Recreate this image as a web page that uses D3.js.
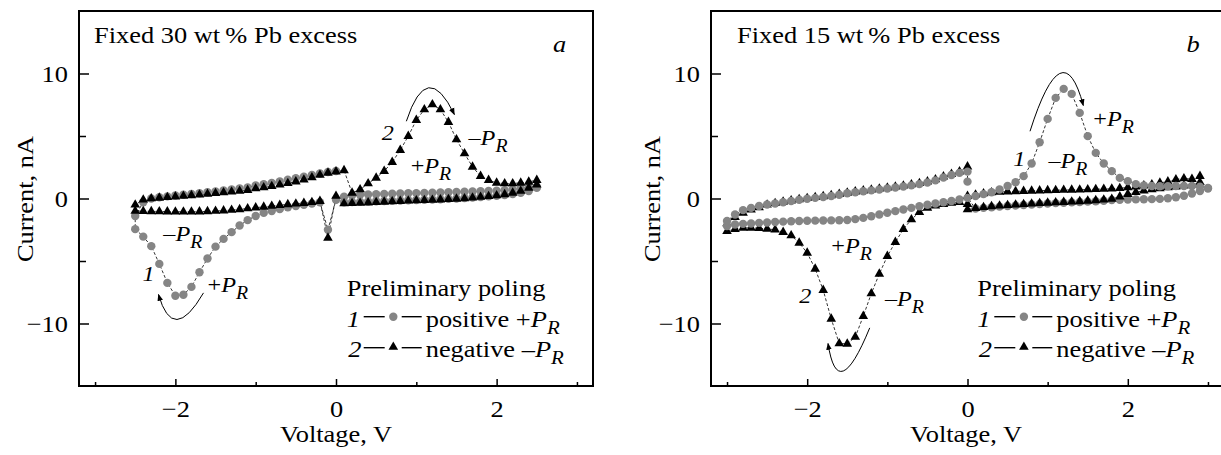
<!DOCTYPE html>
<html><head><meta charset="utf-8">
<script src="https://cdn.jsdelivr.net/npm/d3@7"></script>
<style>body{margin:0;background:#fff}svg{display:block}</style>
</head><body><svg id="c" width="1221" height="455"></svg>
<script>
// ---------------- DATA ----------------
// Panel a (Fixed 30 wt% Pb excess)
const voltA_pos = [0.1,0.2,0.3,0.4,0.5,0.6,0.7,0.8,0.9,1.0,1.1,1.2,1.3,1.4,1.5,1.6,1.7,1.8,1.9,2.0,2.1,2.2,2.3,2.4,2.5];
const voltA_neg = [-2.5,-2.4,-2.3,-2.2,-2.1,-2.0,-1.9,-1.8,-1.7,-1.6,-1.5,-1.4,-1.3,-1.2,-1.1,-1.0,-0.9,-0.8,-0.7,-0.6,-0.5,-0.4,-0.3,-0.2,-0.1,0.0];
// curve 1 (positive +P_R, grey circles)
const curA1_posFwd = [0.15,0.25,0.3,0.32,0.34,0.36,0.38,0.4,0.42,0.43,0.45,0.46,0.48,0.5,0.52,0.54,0.56,0.58,0.6,0.63,0.67,0.72,0.8,0.88,0.95];
const curA1_posRet = [-0.3,-0.28,-0.26,-0.24,-0.22,-0.2,-0.18,-0.16,-0.14,-0.12,-0.1,-0.08,-0.06,-0.03,0.0,0.04,0.08,0.12,0.17,0.22,0.28,0.35,0.45,0.6,0.85];
const curA1_negDip = [-2.45,-3.05,-3.81,-5.23,-6.75,-7.78,-7.7,-7.07,-5.9,-4.8,-3.85,-3.23,-2.69,-2.16,-1.73,-1.4,-1.15,-1.0,-0.85,-0.7,-0.6,-0.5,-0.4,-0.3,-2.5,-0.1];
const curA1_negUp  = [-1.4,-0.3,0.0,0.1,0.17,0.24,0.3,0.36,0.42,0.5,0.57,0.64,0.72,0.8,0.88,1.04,1.14,1.25,1.37,1.5,1.62,1.75,1.88,2.0,2.12,2.2];
// curve 2 (negative -P_R, black triangles)
const curA2_posFwd = [2.25,0.45,0.72,1.2,1.65,2.19,2.91,3.87,4.99,6.27,7.12,7.52,7.12,6.11,4.72,3.6,2.53,1.79,1.47,1.25,1.2,1.2,1.25,1.33,1.47];
const curA2_posRet = [-0.4,-0.38,-0.36,-0.33,-0.3,-0.27,-0.24,-0.21,-0.18,-0.16,-0.14,-0.12,-0.09,-0.06,-0.03,0.0,0.06,0.12,0.18,0.24,0.33,0.45,0.6,0.85,1.1];
const curA2_negDip = [-1.0,-1.02,-1.03,-1.04,-1.05,-1.06,-1.06,-1.06,-1.05,-1.03,-1.0,-0.97,-0.92,-0.87,-0.8,-0.73,-0.67,-0.6,-0.53,-0.47,-0.42,-0.37,-0.3,-0.21,-3.15,0.2];
const curA2_negUp  = [-0.5,-0.1,0.0,0.05,0.1,0.15,0.2,0.25,0.3,0.36,0.42,0.48,0.54,0.6,0.67,0.8,0.88,0.98,1.1,1.22,1.35,1.5,1.68,1.88,2.05,2.15];

// Panel b (Fixed 15 wt% Pb excess)
const voltB_pos  = [0.1,0.2,0.3,0.4,0.5,0.6,0.7,0.8,0.9,1.0,1.1,1.2,1.3,1.4,1.5,1.6,1.7,1.8,1.9,2.0,2.1,2.2,2.3,2.4,2.5,2.6,2.7,2.8,2.9,3.0];
const voltB_posT = [0.0,0.1,0.2,0.3,0.4,0.5,0.6,0.7,0.8,0.9,1.0,1.1,1.2,1.3,1.4,1.5,1.6,1.7,1.8,1.9,2.0,2.1,2.2,2.3,2.4,2.5,2.6,2.7,2.8,2.9];
const voltB_neg  = [-3.0,-2.9,-2.8,-2.7,-2.6,-2.5,-2.4,-2.3,-2.2,-2.1,-2.0,-1.9,-1.8,-1.7,-1.6,-1.5,-1.4,-1.3,-1.2,-1.1,-1.0,-0.9,-0.8,-0.7,-0.6,-0.5,-0.4,-0.3,-0.2,-0.1,0.0];
// curve 1 (grey circles)
const curB1_posFwd = [0.2,0.35,0.5,0.72,1.0,1.3,1.79,2.8,4.5,6.37,8.05,8.77,8.37,6.85,4.99,3.65,2.8,2.19,1.65,1.39,1.15,1.05,1.0,0.98,0.98,1.0,1.0,1.0,0.95,0.85];
const curB1_posRet = [-0.8,-0.75,-0.7,-0.65,-0.6,-0.56,-0.52,-0.48,-0.44,-0.4,-0.37,-0.34,-0.31,-0.28,-0.25,-0.22,-0.18,-0.12,-0.1,-0.08,-0.07,-0.06,-0.05,-0.03,0.02,0.1,0.22,0.4,0.6,0.8];
const curB1_negLow = [-2.2,-2.08,-2.03,-2.0,-1.95,-1.92,-1.88,-1.85,-1.82,-1.8,-1.78,-1.77,-1.76,-1.75,-1.74,-1.72,-1.65,-1.55,-1.42,-1.28,-1.14,-1.01,-0.88,-0.75,-0.62,-0.5,-0.4,-0.3,-0.2,-0.08,0.05];
const curB1_negUp  = [-1.8,-1.28,-0.93,-0.75,-0.6,-0.48,-0.4,-0.3,-0.2,-0.1,-0.02,0.05,0.12,0.2,0.3,0.42,0.5,0.58,0.65,0.72,0.8,0.88,0.96,1.05,1.15,1.28,1.45,1.68,1.88,2.05,2.15];
const voltB_jump = [0.0];
const curB1_jump = [1.35];
// curve 2 (black triangles)
const curB2_posUp  = [0.19,0.3,0.4,0.48,0.52,0.55,0.57,0.59,0.61,0.63,0.65,0.66,0.68,0.69,0.7,0.72,0.74,0.76,0.78,0.82,0.88,0.95,1.03,1.12,1.25,1.35,1.52,1.6,1.55,1.79];
const curB2_posLow = [-0.88,-0.78,-0.7,-0.63,-0.58,-0.54,-0.5,-0.46,-0.42,-0.38,-0.35,-0.32,-0.29,-0.26,-0.23,-0.19,-0.15,-0.1,-0.04,0.15,0.35,0.5,0.62,0.72,0.8,0.88,0.95,1.02,1.1,1.3];
const curB2_negDip = [-2.61,-2.45,-2.35,-2.35,-2.38,-2.43,-2.5,-2.69,-2.96,-3.55,-4.35,-5.63,-7.33,-9.63,-11.6,-11.63,-11.07,-9.41,-7.6,-6.03,-4.61,-3.49,-2.45,-1.68,-1.09,-0.75,-0.58,-0.45,-0.35,-0.3,-0.45];
const curB2_negUp  = [-2.0,-1.5,-1.15,-0.9,-0.72,-0.5,-0.38,-0.27,-0.17,-0.07,0.02,0.1,0.17,0.25,0.35,0.45,0.55,0.63,0.7,0.78,0.86,0.94,1.02,1.12,1.22,1.35,1.52,1.75,1.95,2.15,2.55];

// axis ticks
const xMajorTicks = [-2, 0, 2];
const xMinorTicks = [-3, -1, 1, 3];
const yMajorTicks = [-10, 0, 10];
const yMinorTicks = [-5, 5];
const titles = ["Fixed 30 wt\u2009% Pb excess", "Fixed 15 wt\u2009% Pb excess"];
const panelLetters = ["a", "b"];

// ---------------- DRAWING ----------------
const FONT = '"Liberation Serif","Times New Roman",Times,serif';
const SX = 1.1;
const GREY = "#858585";
const svg = d3.select("#c");

const defs = svg.append("defs");
defs.append("marker").attr("id","ah").attr("viewBox","0 0 10 10").attr("refX",9).attr("refY",5)
  .attr("markerWidth",7).attr("markerHeight",7).attr("markerUnits","userSpaceOnUse").attr("orient","auto")
  .append("path").attr("d","M0,1 L10,5 L0,9 Z").attr("fill","#000");

function pts(V, I){ return V.map((v,k)=>[v, I[k]]); }
function rev(a){ return a.slice().reverse(); }

function stext(parent, x, y, parts, o = {}) {
  const t = parent.append("text")
    .attr("transform", `translate(${x},${y})${o.rotate ? ` rotate(${o.rotate})` : ""} scale(${o.sx || SX},1)`)
    .attr("text-anchor", o.anchor || "start")
    .attr("font-size", o.size || 24)
    .style("font-family", FONT).attr("fill", "#000");
  let shift = 0;
  parts.forEach(p => {
    if (typeof p === "string") p = {t: p};
    const ts = t.append("tspan").text(p.t);
    if (p.i) ts.attr("font-style", "italic");
    if (p.sub) { ts.attr("font-size", o.subSize || 18).attr("dy", 7 - shift); shift = 7; }
    else if (shift) { ts.attr("dy", -shift); shift = 0; }
  });
  return t;
}
const PR = (sign) => [sign, {t:"P", i:true}, {t:"R", i:true, sub:true}];

function panel(cfg) {
  const g = svg.append("g");
  const x = d3.scaleLinear().domain([-3.2, 3.2]).range(cfg.xr);
  const y = d3.scaleLinear().domain([-15, 15]).range([386, 11]);
  const x0 = cfg.xr[0], x1 = cfg.xr[1];

  // x axis
  const xa = g.append("g").attr("transform", "translate(0,386)")
    .call(d3.axisBottom(x).tickValues(xMajorTicks.concat(xMinorTicks).sort((a,b)=>a-b))
      .tickSize(-7).tickPadding(14)
      .tickFormat(d => xMajorTicks.includes(d) ? d3.format("d")(d) : ""));
  xa.select(".domain").remove();
  xa.selectAll(".tick line").attr("stroke-width", 1.5).attr("y2", d => xMajorTicks.includes(d) ? -7 : -4);
  xa.selectAll(".tick text").attr("font-size", 24).style("font-family", FONT).attr("fill","#000")
    .attr("transform", `scale(${SX},1)`);
  // y axis
  const ya = g.append("g").attr("transform", `translate(${x0},0)`)
    .call(d3.axisLeft(y).tickValues(yMajorTicks.concat(yMinorTicks).sort((a,b)=>a-b))
      .tickSize(-10).tickPadding(10)
      .tickFormat(d => yMajorTicks.includes(d) ? d3.format("d")(d) : ""));
  ya.select(".domain").remove();
  ya.selectAll(".tick line").attr("stroke-width", 1.5).attr("x2", d => yMajorTicks.includes(d) ? 10 : 7);
  ya.selectAll(".tick text").attr("font-size", 24).style("font-family", FONT).attr("fill","#000")
    .attr("dy", "0.34em").attr("transform", `scale(${SX},1)`);

  // frame
  g.append("rect").attr("x", x0).attr("y", 11).attr("width", x1 - x0).attr("height", 375)
    .attr("fill", "none").attr("stroke", "#000").attr("stroke-width", 2);

  // lines + markers
  const line = d3.line().x(d => x(d[0])).y(d => y(d[1]));
  [cfg.s1, cfg.s2].forEach(s => g.append("path").attr("d", line(s)).attr("fill","none")
    .attr("stroke","#000").attr("stroke-width",0.8).attr("stroke-dasharray","3,2"));
  const drawCircles = (data) => g.append("g").selectAll("circle").data(data).join("circle")
    .attr("cx", d => x(d[0])).attr("cy", d => y(d[1])).attr("r", 4.2).attr("fill", GREY);
  const drawTris = () => g.append("g").selectAll("path").data(cfg.s2).join("path")
    .attr("d", d3.symbol(d3.symbolTriangle, 40)).attr("transform", d => `translate(${x(d[0])},${y(d[1])})`)
    .attr("fill", "#000");
  if (cfg.greyOnTop) { drawCircles(cfg.s1under); drawTris(); drawCircles(cfg.s1top); }
  else { drawCircles(cfg.s1); drawTris(); }

  // annotations
  cfg.ann.forEach(a => stext(g, x(a.V), y(a.I), a.parts, {size: 22, subSize: 18}));
  cfg.arrows.forEach(a => {
    const s = [x(a[0][0]), y(a[0][1])], b = [x(a[1][0]), y(a[1][1])], e = [x(a[2][0]), y(a[2][1])];
    const c = [2*b[0] - (s[0]+e[0])/2, 2*b[1] - (s[1]+e[1])/2];
    g.append("path").attr("d", `M${s[0]},${s[1]} Q${c[0]},${c[1]} ${e[0]},${e[1]}`)
      .attr("fill","none").attr("stroke","#000").attr("stroke-width",1).attr("marker-end","url(#ah)");
  });

  // titles & labels
  stext(g, cfg.titleX, 43, [cfg.title]);
  stext(g, cfg.letterX, 52, [{t: cfg.letter, i: true}]);
  stext(g, cfg.xlabX, 442, ["Voltage, V"], {anchor: "middle"});
  stext(g, cfg.ylabX, 199, ["Current, nA"], {anchor: "middle", rotate: -90});

  // legend
  const lx = cfg.legX;
  stext(g, lx, 296, ["Preliminary poling"]);
  stext(g, lx, 326.5, [{t:"1", i:true}]);
  stext(g, lx + 1.5, 356.5, [{t:"2", i:true}]);
  [316.7, 347.7].forEach(yy => {
    g.append("line").attr("x1", lx+17).attr("x2", lx+38).attr("y1", yy).attr("y2", yy).attr("stroke","#000").attr("stroke-width",1.4);
    g.append("line").attr("x1", lx+55).attr("x2", lx+75).attr("y1", yy).attr("y2", yy).attr("stroke","#000").attr("stroke-width",1.4);
  });
  g.append("circle").attr("cx", lx+46.6).attr("cy", 316.7).attr("r", 4.2).attr("fill", GREY);
  g.append("path").attr("d", d3.symbol(d3.symbolTriangle, 40)).attr("transform", `translate(${lx+46.6},${347})`).attr("fill","#000");
  stext(g, lx + 79, 326.5, ["positive "].concat(PR("+")), {subSize: 19});
  stext(g, lx + 79, 356.5, ["negative "].concat(PR("\u2013")), {subSize: 19});
}

const seqA1 = [...pts(voltA_pos, curA1_posFwd), ...rev(pts(voltA_pos, curA1_posRet)), ...rev(pts(voltA_neg, curA1_negDip)), ...pts(voltA_neg, curA1_negUp)];
const seqA2 = [...rev(pts(voltA_neg, curA2_negDip)), ...pts(voltA_neg, curA2_negUp), ...pts(voltA_pos, curA2_posFwd), ...rev(pts(voltA_pos, curA2_posRet))];
const retB1 = rev(pts(voltB_pos, curB1_posRet));
const restB1 = [...pts(voltB_pos, curB1_posFwd), ...rev(pts(voltB_neg, curB1_negLow)), ...pts(voltB_neg, curB1_negUp), ...pts(voltB_jump, curB1_jump)];
const seqB1 = [...pts(voltB_pos, curB1_posFwd), ...retB1, ...rev(pts(voltB_neg, curB1_negLow)), ...pts(voltB_neg, curB1_negUp), ...pts(voltB_jump, curB1_jump)];
const seqB2 = [...pts(voltB_posT, curB2_posUp), ...rev(pts(voltB_posT, curB2_posLow)), ...rev(pts(voltB_neg, curB2_negDip)), ...pts(voltB_neg, curB2_negUp)];

panel({
  xr: [79, 593], s1: seqA1, s2: seqA2, greyOnTop: false,
  title: titles[0], titleX: 94, letter: panelLetters[0], letterX: 553, xlabX: 336, ylabX: 33, legX: 346.7,
  ann: [
    {V:-2.41, I:-6.62, parts:[{t:"1", i:true}]},
    {V:-2.15, I:-3.42, parts:PR("\u2013")},
    {V:-1.6, I:-7.5, parts:PR("+")},
    {V:0.57, I:4.72, parts:[{t:"2", i:true}]},
    {V:1.65, I:4.32, parts:PR("\u2013")},
    {V:0.93, I:2.05, parts:PR("+")}
  ],
  arrows: [
    [[-1.65,-7.55],[-1.98,-9.68],[-2.21,-7.68]],
    [[0.876,6.18],[1.154,8.86],[1.474,6.72]]
  ]
});
panel({
  xr: [711, 1224], s1: seqB1, s1under: retB1, s1top: restB1, s2: seqB2, greyOnTop: true,
  title: titles[1], titleX: 737, letter: panelLetters[1], letterX: 1186.5, xlabX: 966, ylabX: 660, legX: 977.3,
  ann: [
    {V:0.57, I:2.58, parts:[{t:"1", i:true}]},
    {V:1.01, I:2.45, parts:PR("\u2013")},
    {V:1.57, I:5.78, parts:PR("+")},
    {V:-1.70, I:-4.35, parts:PR("+")},
    {V:-2.1, I:-8.35, parts:[{t:"2", i:true}]},
    {V:-1.03, I:-8.6, parts:PR("\u2013")}
  ],
  arrows: [
    [[0.78,5.38],[1.15,10.0],[1.445,7.44]],
    [[-1.22,-10.35],[-1.55,-13.8],[-1.74,-11.6]]
  ]
});
</script></body></html>
